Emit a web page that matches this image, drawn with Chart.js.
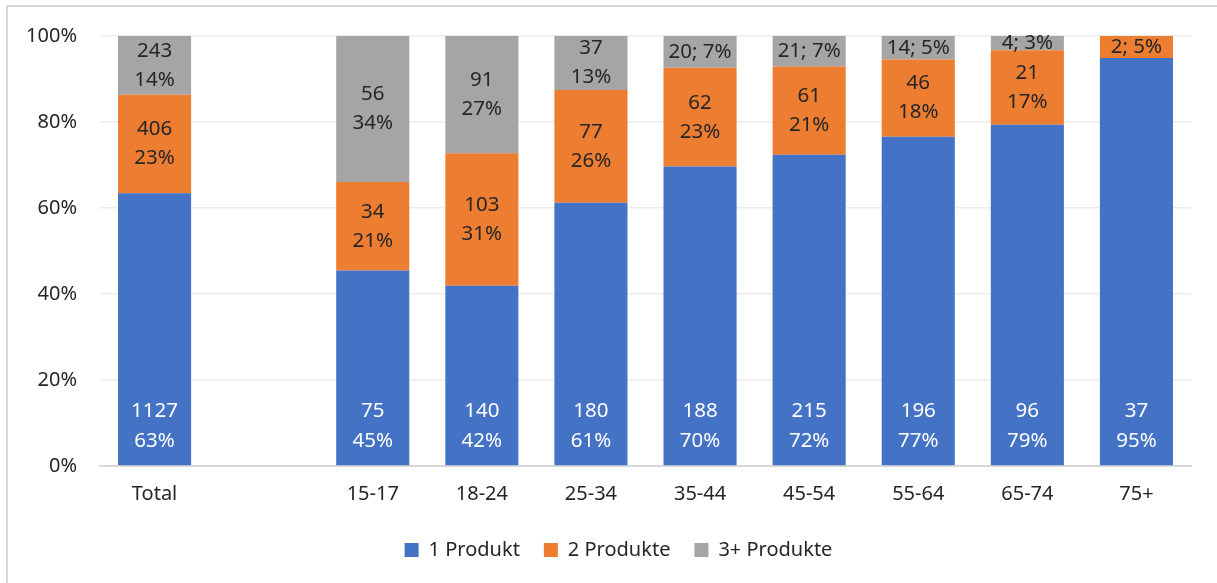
<!DOCTYPE html>
<html>
<head>
<meta charset="utf-8">
<script src="https://cdn.jsdelivr.net/npm/chart.js@4.4.1/dist/chart.umd.min.js"></script>
<style>
  html, body { margin: 0; padding: 0; background: #fff; }
  #wrap { position: relative; width: 1217px; height: 583px; overflow: hidden; }
  #frame { position: absolute; left: 6px; top: 5px; width: 1300px; height: 700px;
           border-left: 2px solid #d9d9d9; border-top: 2px solid #d9d9d9; }
  canvas { position: absolute; left: 0; top: 0; }
</style>
</head>
<body>
<div id="wrap">
  <div id="frame"></div>
  <canvas id="chart" width="1217" height="583"></canvas>
</div>
<script>
// Kategorien (leere Kategorie = Lücke nach "Total")
const categories = ["Total", "", "15-17", "18-24", "25-34", "35-44", "45-54", "55-64", "65-74", "75+"];

// Anzahl je Gruppe
const einProdukt   = [1127, null, 75, 140, 180, 188, 215, 196, 96, 37];
const zweiProdukte = [406,  null, 34, 103, 77,  62,  61,  46,  21, 2];
const dreiProdukte = [243,  null, 56, 91,  37,  20,  21,  14,  4,  0];

const seriesNames = ["1 Produkt", "2 Produkte", "3+ Produkte"];
const seriesColors = ["#4472C4", "#ED7D31", "#A5A5A5"];
const yTicks = [0, 20, 40, 60, 80, 100];

const counts = [einProdukt, zweiProdukte, dreiProdukte];
const totals = categories.map((c, i) => counts.reduce((s, arr) => s + (arr[i] || 0), 0));
const shares = counts.map(arr => arr.map((v, i) => v == null ? null : v / totals[i] * 100));

const FONT = "'Noto Sans', sans-serif";
const TEXT = "#262626";

// Datenbeschriftungen wie in Excel: "Anzahl / Prozent", bei kleinen Segmenten einzeilig
const segmentLabels = {
  id: "segmentLabels",
  afterDatasetsDraw(chart) {
    const ctx = chart.ctx;
    ctx.save();
    ctx.font = "20.5px " + FONT;
    ctx.textAlign = "center";
    ctx.textBaseline = "middle";
    chart.data.datasets.forEach((ds, d) => {
      const meta = chart.getDatasetMeta(d);
      meta.data.forEach((bar, i) => {
        const n = counts[d][i];
        if (!n) return;
        const pct = Math.round(shares[d][i]) + "%";
        const { x, y, base } = bar.getProps(["x", "y", "base"], true);
        const h = base - y;
        ctx.fillStyle = d === 0 ? "#ffffff" : TEXT;
        if (h < 45) {
          ctx.fillText(n + "; " + pct, x, (y + base) / 2);
        } else if (d === 0) {
          ctx.fillText(String(n), x, base - 54);
          ctx.fillText(pct, x, base - 24);
        } else {
          const c = (y + base) / 2;
          ctx.fillText(String(n), x, c - 14.5);
          ctx.fillText(pct, x, c + 14.5);
        }
      });
    });
    ctx.restore();
  }
};

// Legende etwas nach rechts rücken (Excel zentriert sie anders)
const legendShift = {
  id: "legendShift",
  afterLayout(chart) {
    chart.legend.left += 23;
    chart.legend.right += 23;
  }
};

new Chart(document.getElementById("chart"), {
  type: "bar",
  data: {
    labels: categories,
    datasets: shares.map((data, d) => ({
      label: seriesNames[d],
      data: data,
      backgroundColor: seriesColors[d],
      borderWidth: 0,
      barPercentage: 0.67,
      categoryPercentage: 1
    }))
  },
  options: {
    responsive: false,
    animation: false,
    layout: { padding: { top: 36, right: 26, left: 0, bottom: 13 } },
    plugins: {
      tooltip: { enabled: false },
      legend: {
        position: "bottom",
        labels: {
          font: { family: FONT, size: 20 },
          color: TEXT,
          boxWidth: 14,
          boxHeight: 14,
          padding: 24
        }
      }
    },
    scales: {
      x: {
        stacked: true,
        grid: { display: false, drawTicks: false },
        border: { color: "#d9d9d9", width: 2 },
        ticks: { font: { family: FONT, size: 20 }, color: TEXT, padding: 16, autoSkip: false, maxRotation: 0 },
        afterFit: s => { s.height = 50; }
      },
      y: {
        stacked: true,
        min: 0,
        max: 100,
        afterBuildTicks: s => { s.ticks = yTicks.map(v => ({ value: v })); },
        grid: { color: "#ececec", lineWidth: 1.5, drawTicks: false },
        border: { display: false },
        ticks: { font: { family: FONT, size: 20 }, color: TEXT, padding: 23, callback: v => v + "%" },
        afterFit: s => { s.width = 100; }
      }
    }
  },
  plugins: [segmentLabels, legendShift]
});
</script>
</body>
</html>
